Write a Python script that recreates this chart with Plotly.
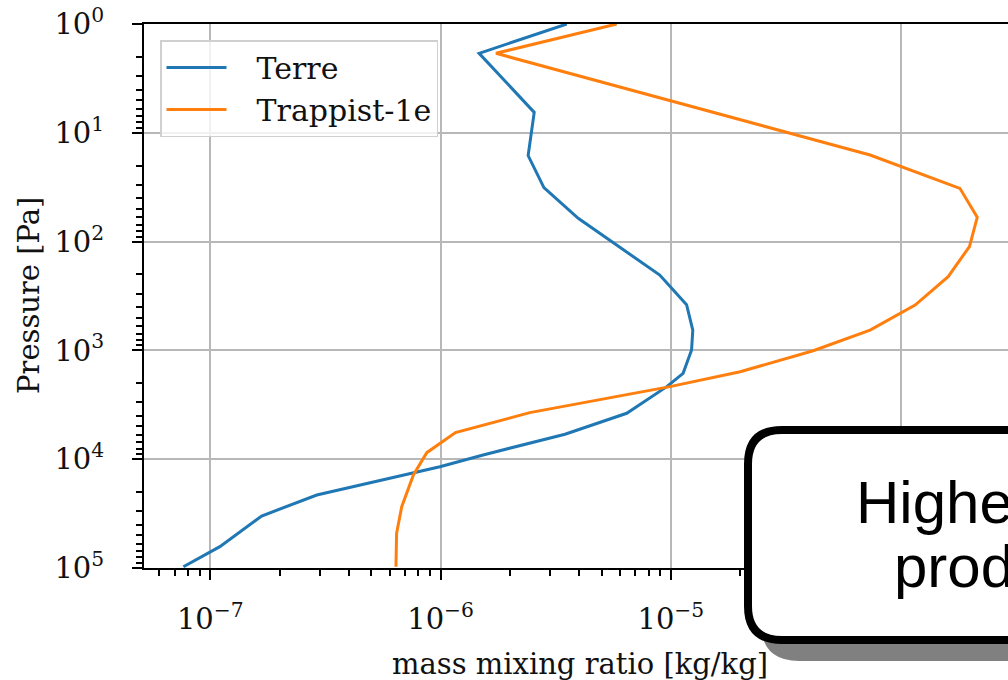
import plotly.graph_objects as go

# ---- data ----
terre_ratio = [3.53e-6, 1.47e-6, 2.55e-6, 2.40e-6, 2.81e-6, 3.96e-6, 8.95e-6, 1.17e-5,
               1.245e-5, 1.23e-5, 1.13e-5, 9.6e-6, 6.43e-6, 3.47e-6, 1.53e-6, 9.93e-7,
               2.90e-7, 1.67e-7, 1.10e-7, 8.43e-8, 7.64e-8]
terre_pressure = [1.0, 1.86, 6.49, 16.2, 31.9, 61.1, 203, 380, 650, 991, 1626, 2153,
                  3784, 5890, 9141, 11720, 21330, 33270, 63680, 85700, 97300]

trappist_ratio = [5.82e-6, 1.74e-6, 7.33e-5, 1.80e-4, 2.14e-4, 1.98e-4, 1.60e-4, 1.15e-4,
                  7.33e-5, 4.15e-5, 2.00e-5, 9.91e-6, 2.44e-6, 1.16e-6, 8.71e-7, 7.62e-7,
                  6.78e-7, 6.44e-7, 6.40e-7]
trappist_pressure = [1.0, 1.86, 16.0, 32.4, 59.8, 111, 210, 383, 650, 1007, 1570, 2153,
                     3733, 5700, 8710, 13960, 27300, 48000, 97300]

x_tick_vals = [1e-7, 1e-6, 1e-5, 1e-4]
x_tick_text = ["10<sup>\u22127</sup>", "10<sup>\u22126</sup>", "10<sup>\u22125</sup>", "10<sup>\u22124</sup>"]
y_tick_vals = [1, 10, 100, 1000, 10000, 100000]
y_tick_text = ["10<sup>0</sup>", "10<sup>1</sup>", "10<sup>2</sup>", "10<sup>3</sup>",
               "10<sup>4</sup>", "10<sup>5</sup>"]

series_names = ["Terre", "Trappist-1e"]
series_colors = ["#1f77b4", "#ff7f0e"]

# ---- layout geometry ----
W, H = 1008, 680
ML, MR, MT, MB = 144, 0, 24, 112
PW, PH = W - ML - MR, H - MT - MB
SERIF = "DejaVu Serif"
LEGEND_PAD = "\u00a0\u00a0\u2009"


def paper(px, py):
    return (px - ML) / PW, (MT + PH - py) / PH


def rounded_path(x0, y0, x1, y1, r):
    def P(px, py):
        a, b = paper(px, py)
        return f"{a:.5f},{b:.5f}"
    s = f"M {P(x0 + r, y0)} L {P(x1 - r, y0)} Q {P(x1, y0)} {P(x1, y0 + r)} "
    s += f"L {P(x1, y1 - r)} Q {P(x1, y1)} {P(x1 - r, y1)} "
    s += f"L {P(x0 + r, y1)} Q {P(x0, y1)} {P(x0, y1 - r)} "
    s += f"L {P(x0, y0 + r)} Q {P(x0, y0)} {P(x0 + r, y0)} Z"
    return s


fig = go.Figure()
fig.add_trace(go.Scatter(x=terre_ratio, y=terre_pressure, mode="lines",
                         name=LEGEND_PAD + series_names[0],
                         line=dict(color=series_colors[0], width=3)))
fig.add_trace(go.Scatter(x=trappist_ratio, y=trappist_pressure, mode="lines",
                         name=LEGEND_PAD + series_names[1],
                         line=dict(color=series_colors[1], width=3)))

minor_x = [m * 10 ** e for e in range(-8, -3) for m in range(2, 10)]
minor_y = [m * 10 ** e for e in range(0, 5) for m in range(2, 10)]

axis_common = dict(
    type="log", showline=True, linecolor="black", linewidth=2,
    ticks="outside", ticklen=10, tickwidth=2, tickcolor="black",
    showgrid=True, gridcolor="#b8b8b8", gridwidth=1.6, zeroline=False,
    tickfont=dict(family=SERIF, size=29, color="#111"),
)

fig.update_xaxes(
    **axis_common, range=[-7.288, -3.536], tickmode="array", tickvals=x_tick_vals,
    ticktext=x_tick_text, mirror=True, ticklabelstandoff=14,
    minor=dict(tickmode="array", tickvals=minor_x, ticks="outside", ticklen=6,
               tickwidth=1.5, tickcolor="black", showgrid=False),
)
fig.update_yaxes(
    **axis_common, range=[5, 0], tickmode="array", tickvals=y_tick_vals,
    ticktext=y_tick_text, ticklabelstandoff=22,
    minor=dict(tickmode="array", tickvals=minor_y, ticks="outside", ticklen=6,
               tickwidth=1.5, tickcolor="black", showgrid=False),
)

# callout box with shadow
shadow_dx = 17
fig.add_shape(type="path", xref="paper", yref="paper", layer="above",
              path=rounded_path(744 + shadow_dx, 426 + shadow_dx, 1340 + shadow_dx, 644 + shadow_dx, 38),
              fillcolor="#808080", line=dict(width=0))
fig.add_shape(type="path", xref="paper", yref="paper", layer="above",
              path=rounded_path(748, 430, 1336, 640, 34),
              fillcolor="white", line=dict(color="black", width=8))

annotations = []
cx, _ = paper(1034, 0)
for txt, yc in [("Higher ozone", 502), ("production", 566)]:
    _, yp = paper(0, yc)
    annotations.append(dict(text=txt, x=cx, y=yp, xref="paper", yref="paper",
                            xanchor="center", yanchor="middle", showarrow=False,
                            font=dict(family="Liberation Sans", size=60, color="black")))

xt, yt = paper(580, 664)
annotations.append(dict(text="mass mixing ratio [kg/kg]", x=xt, y=yt, xref="paper", yref="paper",
                        xanchor="center", yanchor="middle", showarrow=False,
                        font=dict(family=SERIF, size=29, color="#111")))
xt, yt = paper(29, 296)
annotations.append(dict(text="Pressure [Pa]", x=xt, y=yt, xref="paper", yref="paper",
                        xanchor="center", yanchor="middle", showarrow=False, textangle=-90,
                        font=dict(family=SERIF, size=29, color="#111")))

lx, ly = paper(160, 40)
fig.update_layout(
    width=W, height=H,
    margin=dict(l=ML, r=MR, t=MT, b=MB, pad=0),
    paper_bgcolor="white", plot_bgcolor="white",
    font=dict(family=SERIF, size=29, color="#111"),
    showlegend=True,
    legend=dict(x=lx, y=ly, xanchor="left", yanchor="top",
                bgcolor="rgba(255,255,255,0.8)", bordercolor="#d0d0d0", borderwidth=1.5,
                font=dict(family=SERIF, size=30, color="#111"), itemwidth=60),
    annotations=annotations,
)

fig.write_html("out.html")
